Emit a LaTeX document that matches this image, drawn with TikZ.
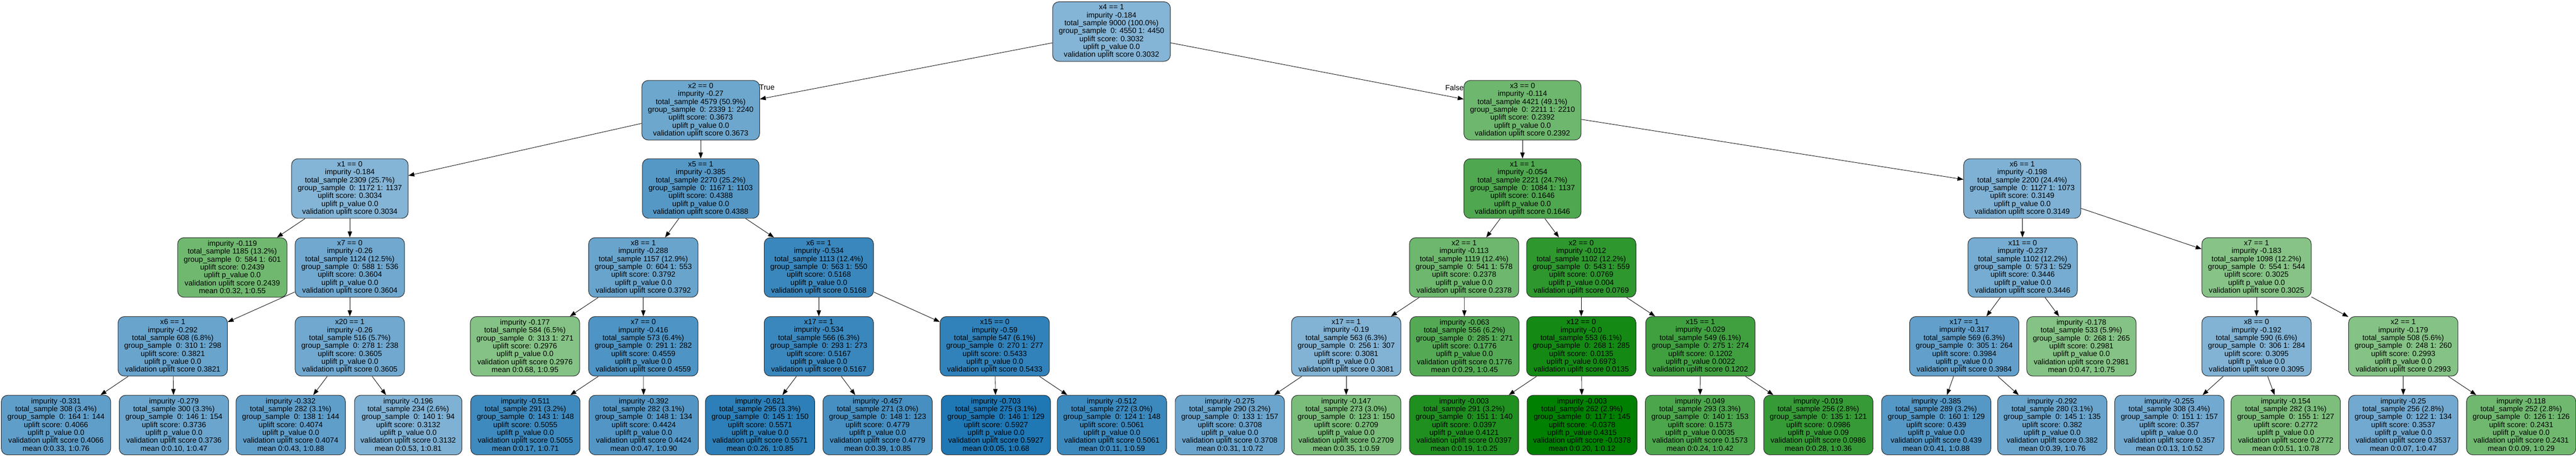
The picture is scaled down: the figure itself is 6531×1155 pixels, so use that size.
\documentclass[tikz,border=0pt]{standalone}
\usepackage{fontspec}
\setmainfont{Liberation Sans}
\usetikzlibrary{arrows.meta}
\definecolor{tabblue}{RGB}{31,119,180}
\definecolor{tabgreen}{RGB}{0,128,0}
\newcommand\intxt[6]{#1\\impurity #2\\total\_sample #3\\group\_sample\ \ #4\\uplift score: #5\\uplift p\_value #6\\validation uplift score #5}
\newcommand\lftxt[6]{impurity #1\\total\_sample #2\\group\_sample\ \ #3\\uplift score: #4\\uplift p\_value #5\\validation uplift score #4\\mean #6}
\tikzset{
  tnode/.style={draw=black!85, line width=1.3pt, rounded corners=16pt, align=center,
    font=\fontsize{19.06pt}{20.05pt}\selectfont, inner xsep=15.5pt, inner ysep=3pt,
    minimum height=151pt},
  bnode/.style={tnode, fill=tabblue!#1!white},
  gnode/.style={tnode, fill=tabgreen!#1!white},
  arr/.style={line width=1.1pt, draw=black, -{Triangle[length=15pt,width=11pt]}},
  elabel/.style={font=\fontsize{19.06pt}{20.05pt}\selectfont, inner sep=0pt}
}
\begin{document}
\begin{tikzpicture}[x=1pt,y=-1pt]
\useasboundingbox (0,0) rectangle (6531,1155);
% level 0
\node[bnode=55] (n0) at (2818,80) {\intxt{x4 == 1}{-0.184}{9000 (100.0\%)}{0: 4550 1: 4450}{0.3032}{0.0}};
% level 1
\node[bnode=65] (n1) at (1776.5,279.5) {\intxt{x2 == 0}{-0.27}{4579 (50.9\%)}{0: 2339 1: 2240}{0.3673}{0.0}};
\node[gnode=57] (n2) at (3860,279.5) {\intxt{x3 == 0}{-0.114}{4421 (49.1\%)}{0: 2211 1: 2210}{0.2392}{0.0}};
% level 2
\node[bnode=55] (n3) at (887,478) {\intxt{x1 == 0}{-0.184}{2309 (25.7\%)}{0: 1172 1: 1137}{0.3034}{0.0}};
\node[bnode=76] (n4) at (1776.5,478) {\intxt{x5 == 1}{-0.385}{2270 (25.2\%)}{0: 1167 1: 1103}{0.4388}{0.0}};
\node[gnode=69] (n5) at (3860,478) {\intxt{x1 == 1}{-0.054}{2221 (24.7\%)}{0: 1084 1: 1137}{0.1646}{0.0}};
\node[bnode=57] (n6) at (5127,478) {\intxt{x6 == 1}{-0.198}{2200 (24.4\%)}{0: 1127 1: 1073}{0.3149}{0.0}};
% level 3
\node[gnode=56] (n7) at (589,678) {\lftxt{-0.119}{1185 (13.2\%)}{0: 584 1: 601}{0.2439}{0.0}{0:0.32, 1:0.55}};
\node[bnode=64] (n8) at (887,678) {\intxt{x7 == 0}{-0.26}{1124 (12.5\%)}{0: 588 1: 536}{0.3604}{0.0}};
\node[bnode=67] (n9) at (1631,678) {\intxt{x8 == 1}{-0.288}{1157 (12.9\%)}{0: 604 1: 553}{0.3792}{0.0}};
\node[bnode=88] (n10) at (2076,678) {\intxt{x6 == 1}{-0.534}{1113 (12.4\%)}{0: 563 1: 550}{0.5168}{0.0}};
\node[gnode=57] (n11) at (3712,678) {\intxt{x2 == 1}{-0.113}{1119 (12.4\%)}{0: 541 1: 578}{0.2378}{0.0}};
\node[gnode=82] (n12) at (4009,678) {\intxt{x2 == 0}{-0.012}{1102 (12.2\%)}{0: 543 1: 559}{0.0769}{0.004}};
\node[bnode=61] (n13) at (5128,678) {\intxt{x11 == 0}{-0.237}{1102 (12.2\%)}{0: 573 1: 529}{0.3446}{0.0}};
\node[gnode=47] (n14) at (5721,678) {\intxt{x7 == 1}{-0.183}{1098 (12.2\%)}{0: 554 1: 544}{0.3025}{0.0}};
% level 4
\node[bnode=67] (n15) at (438,878) {\intxt{x6 == 1}{-0.292}{608 (6.8\%)}{0: 310 1: 298}{0.3821}{0.0}};
\node[bnode=64] (n16) at (887,878) {\intxt{x20 == 1}{-0.26}{516 (5.7\%)}{0: 278 1: 238}{0.3605}{0.0}};
\node[gnode=48] (n17) at (1331,878) {\lftxt{-0.177}{584 (6.5\%)}{0: 313 1: 271}{0.2976}{0.0}{0:0.68, 1:0.95}};
\node[bnode=79] (n18) at (1631,878) {\intxt{x7 == 0}{-0.416}{573 (6.4\%)}{0: 291 1: 282}{0.4559}{0.0}};
\node[bnode=88] (n19) at (2076,878) {\intxt{x17 == 1}{-0.534}{566 (6.3\%)}{0: 293 1: 273}{0.5167}{0.0}};
\node[bnode=92] (n20) at (2522,878) {\intxt{x15 == 0}{-0.59}{547 (6.1\%)}{0: 270 1: 277}{0.5433}{0.0}};
\node[bnode=56] (n21) at (3413,878) {\intxt{x17 == 1}{-0.19}{563 (6.3\%)}{0: 256 1: 307}{0.3081}{0.0}};
\node[gnode=67] (n22) at (3713,878) {\lftxt{-0.063}{556 (6.2\%)}{0: 285 1: 271}{0.1776}{0.0}{0:0.29, 1:0.45}};
\node[gnode=92] (n23) at (4009,878) {\intxt{x12 == 0}{-0.0}{553 (6.1\%)}{0: 268 1: 285}{0.0135}{0.6973}};
\node[gnode=75] (n24) at (4311,878) {\intxt{x15 == 1}{-0.029}{549 (6.1\%)}{0: 275 1: 274}{0.1202}{0.0022}};
\node[bnode=70] (n25) at (4980,878) {\intxt{x17 == 1}{-0.317}{569 (6.3\%)}{0: 305 1: 264}{0.3984}{0.0}};
\node[gnode=48] (n26) at (5277,878) {\lftxt{-0.178}{533 (5.9\%)}{0: 268 1: 265}{0.2981}{0.0}{0:0.47, 1:0.75}};
\node[bnode=56] (n27) at (5721,878) {\intxt{x8 == 0}{-0.192}{590 (6.6\%)}{0: 306 1: 284}{0.3095}{0.0}};
\node[gnode=48] (n28) at (6093,878) {\intxt{x2 == 1}{-0.179}{508 (5.6\%)}{0: 248 1: 260}{0.2993}{0.0}};
% level 5 leaves
\node[bnode=71] (l1) at (142,1077.5) {\lftxt{-0.331}{308 (3.4\%)}{0: 164 1: 144}{0.4066}{0.0}{0:0.33, 1:0.76}};
\node[bnode=66] (l2) at (441,1077.5) {\lftxt{-0.279}{300 (3.3\%)}{0: 146 1: 154}{0.3736}{0.0}{0:0.10, 1:0.47}};
\node[bnode=71] (l3) at (737,1077.5) {\lftxt{-0.332}{282 (3.1\%)}{0: 138 1: 144}{0.4074}{0.0}{0:0.43, 1:0.88}};
\node[bnode=57] (l4) at (1035,1077.5) {\lftxt{-0.196}{234 (2.6\%)}{0: 140 1: 94}{0.3132}{0.0}{0:0.53, 1:0.81}};
\node[bnode=86] (l5) at (1332,1077.5) {\lftxt{-0.511}{291 (3.2\%)}{0: 143 1: 148}{0.5055}{0.0}{0:0.17, 1:0.71}};
\node[bnode=77] (l6) at (1632,1077.5) {\lftxt{-0.392}{282 (3.1\%)}{0: 148 1: 134}{0.4424}{0.0}{0:0.47, 1:0.90}};
\node[bnode=94] (l7) at (1927,1077.5) {\lftxt{-0.621}{295 (3.3\%)}{0: 145 1: 150}{0.5571}{0.0}{0:0.26, 1:0.85}};
\node[bnode=82] (l8) at (2225,1077.5) {\lftxt{-0.457}{271 (3.0\%)}{0: 148 1: 123}{0.4779}{0.0}{0:0.39, 1:0.85}};
\node[bnode=100] (l9) at (2525,1077.5) {\lftxt{-0.703}{275 (3.1\%)}{0: 146 1: 129}{0.5927}{0.0}{0:0.05, 1:0.68}};
\node[bnode=87] (l10) at (2819,1077.5) {\lftxt{-0.512}{272 (3.0\%)}{0: 124 1: 148}{0.5061}{0.0}{0:0.11, 1:0.59}};
\node[bnode=66] (l11) at (3118,1077.5) {\lftxt{-0.275}{290 (3.2\%)}{0: 133 1: 157}{0.3708}{0.0}{0:0.31, 1:0.72}};
\node[gnode=52] (l12) at (3413,1077.5) {\lftxt{-0.147}{273 (3.0\%)}{0: 123 1: 150}{0.2709}{0.0}{0:0.35, 1:0.59}};
\node[gnode=88] (l13) at (3712,1077.5) {\lftxt{-0.003}{291 (3.2\%)}{0: 151 1: 140}{0.0397}{0.4121}{0:0.19, 1:0.25}};
\node[gnode=100] (l14) at (4011,1077.5) {\lftxt{-0.003}{262 (2.9\%)}{0: 117 1: 145}{-0.0378}{0.4315}{0:0.20, 1:0.12}};
\node[gnode=70] (l15) at (4310,1077.5) {\lftxt{-0.049}{293 (3.3\%)}{0: 140 1: 153}{0.1573}{0.0035}{0:0.24, 1:0.42}};
\node[gnode=79] (l16) at (4610,1077.5) {\lftxt{-0.019}{256 (2.8\%)}{0: 135 1: 121}{0.0986}{0.09}{0:0.28, 1:0.36}};
\node[bnode=76] (l17) at (4909,1077.5) {\lftxt{-0.385}{289 (3.2\%)}{0: 160 1: 129}{0.439}{0.0}{0:0.41, 1:0.88}};
\node[bnode=67] (l18) at (5203,1077.5) {\lftxt{-0.292}{280 (3.1\%)}{0: 145 1: 135}{0.382}{0.0}{0:0.39, 1:0.76}};
\node[bnode=63] (l19) at (5500,1077.5) {\lftxt{-0.255}{308 (3.4\%)}{0: 151 1: 157}{0.357}{0.0}{0:0.13, 1:0.52}};
\node[gnode=51] (l20) at (5795,1077.5) {\lftxt{-0.154}{282 (3.1\%)}{0: 155 1: 127}{0.2772}{0.0}{0:0.51, 1:0.78}};
\node[bnode=63] (l21) at (6093,1077.5) {\lftxt{-0.25}{256 (2.8\%)}{0: 122 1: 134}{0.3537}{0.0}{0:0.07, 1:0.47}};
\node[gnode=56] (l22) at (6392,1077.5) {\lftxt{-0.118}{252 (2.8\%)}{0: 126 1: 126}{0.2431}{0.0}{0:0.09, 1:0.29}};
% edges
\foreach \a/\b in {n0/n1,n0/n2,n1/n3,n1/n4,n2/n5,n2/n6,
  n3/n7,n3/n8,n4/n9,n4/n10,n5/n11,n5/n12,n6/n13,n6/n14,
  n8/n15,n8/n16,n9/n17,n9/n18,n10/n19,n10/n20,n11/n21,n11/n22,n12/n23,n12/n24,n13/n25,n13/n26,n14/n27,n14/n28,
  n15/l1,n15/l2,n16/l3,n16/l4,n18/l5,n18/l6,n19/l7,n19/l8,n20/l9,n20/l10,n21/l11,n21/l12,n23/l13,n23/l14,n24/l15,n24/l16,n25/l17,n25/l18,n27/l19,n27/l20,n28/l21,n28/l22}
  {\draw[arr] (\a) -- (\b);}
% branch labels
\node[elabel, anchor=west] (tl) at (1925,222) {True};
\node[elabel, anchor=east] (fl) at (3711,222) {False};
\end{tikzpicture}
\end{document}
